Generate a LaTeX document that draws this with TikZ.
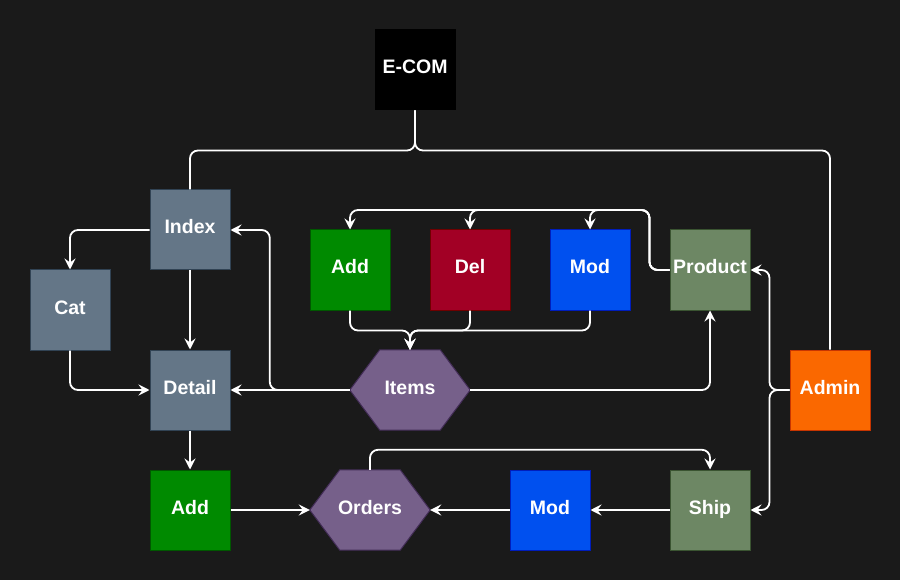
\documentclass[tikz,border=0pt]{standalone}
\usepackage{fontspec}
\setmainfont{Liberation Sans}
\usetikzlibrary{arrows.meta}
\definecolor{bgc}{HTML}{1A1A1A}
\definecolor{slatef}{HTML}{647687}\definecolor{slated}{HTML}{314354}
\definecolor{greenf}{HTML}{008A00}\definecolor{greend}{HTML}{005700}
\definecolor{redf}{HTML}{A20025}\definecolor{redd}{HTML}{6F0000}
\definecolor{bluef}{HTML}{0050EF}\definecolor{blued}{HTML}{001DBC}
\definecolor{olivef}{HTML}{6D8764}\definecolor{olived}{HTML}{3A5431}
\definecolor{purpf}{HTML}{76608A}\definecolor{purpd}{HTML}{432D57}
\definecolor{orangef}{HTML}{FA6800}\definecolor{oranged}{HTML}{C73500}
\pgfdeclarelayer{back}
\pgfsetlayers{back,main}
\begin{document}
\begin{tikzpicture}[x=1pt,y=-1pt,
  lbl/.style={text=white, font=\bfseries\fontsize{19.5}{22}\selectfont, inner sep=0pt,
    text height=14pt, text depth=6pt},
  box/.style={lbl, draw=#1, line width=1pt, minimum width=80pt, minimum height=80pt},
  hexbox/.style={lbl, minimum width=120pt, minimum height=80pt},
  hexshape/.style={draw=purpd, fill=purpf, line width=1pt},
  wire/.style={draw=white, line width=1.8pt, rounded corners=8pt},
  arr/.style={wire, -{Stealth[length=11pt,width=11pt,inset=4pt]}}]
\begin{pgfonlayer}{back}
\fill[bgc] (0,0) rectangle (900,580);
\end{pgfonlayer}
\useasboundingbox (0,0) rectangle (900,580);

\node[box=black, fill=black] (ecom) at (415,70) {E-COM};
\node[box=slated, fill=slatef] (index) at (190,230) {Index};
\node[box=slated, fill=slatef] (cat) at (70,310) {Cat};
\node[box=slated, fill=slatef] (detail) at (190,390) {Detail};
\node[box=greend, fill=greenf] (addA) at (350,270) {Add};
\node[box=redd, fill=redf] (del) at (470,270) {Del};
\node[box=blued, fill=bluef] (modA) at (590,270) {Mod};
\node[box=olived, fill=olivef] (product) at (710,270) {Product};
\node[hexbox] (items) at (410,390) {Items};
\node[box=oranged, fill=orangef] (admin) at (830,390) {Admin};
\node[box=greend, fill=greenf] (addB) at (190,510) {Add};
\node[hexbox] (orders) at (370,510) {Orders};
\node[box=blued, fill=bluef] (modB) at (550,510) {Mod};
\node[box=olived, fill=olivef] (ship) at (710,510) {Ship};

\begin{pgfonlayer}{back}
\foreach \h in {items,orders}{
  \draw[hexshape] (\h.west) -- ([xshift=30pt]\h.north west) -- ([xshift=-30pt]\h.north east)
    -- (\h.east) -- ([xshift=-30pt]\h.south east) -- ([xshift=30pt]\h.south west) -- cycle;
}
\end{pgfonlayer}

\draw[wire] (ecom.south) -- ++(0,40) -| (index.north);
\draw[wire] (ecom.south) -- ++(0,40) -| (admin.north);
\draw[arr] (index.west) -| (cat.north);
\draw[arr] (index.south) -- (detail.north);
\draw[arr] (cat.south) |- (detail.west);
\draw[arr] (items.west) -- (detail.east);
\draw[arr] (items.west) -- ++(-80,0) |- (index.east);
\draw[arr] (items.east) -| (product.south);
\draw[arr] (product.west) -- ++(-20,0) -- ++(0,-60) -| (addA.north);
\draw[arr] (product.west) -- ++(-20,0) -- ++(0,-60) -| (del.north);
\draw[arr] (product.west) -- ++(-20,0) -- ++(0,-60) -| (modA.north);
\draw[arr] (addA.south) -- ++(0,20) -| (items.north);
\draw[arr] (del.south) -- ++(0,20) -| (items.north);
\draw[arr] (modA.south) -- ++(0,20) -| (items.north);
\draw[arr] (admin.west) -- ++(-20,0) |- (product.east);
\draw[arr] (admin.west) -- ++(-20,0) |- (ship.east);
\draw[arr] (detail.south) -- (addB.north);
\draw[arr] (addB.east) -- (orders.west);
\draw[arr] (modB.west) -- (orders.east);
\draw[arr] (ship.west) -- (modB.east);
\draw[arr] (orders.north) -- ++(0,-20) -| (ship.north);
\end{tikzpicture}
\end{document}
